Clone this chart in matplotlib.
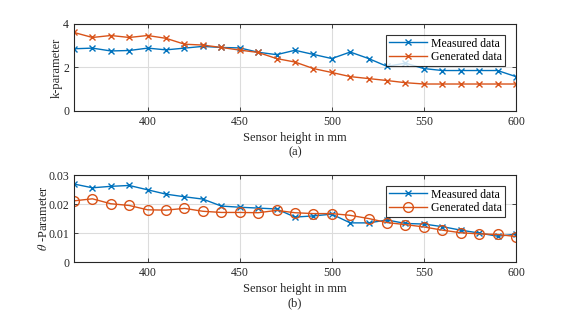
import numpy as np
import matplotlib.pyplot as plt

plt.rcParams['font.family'] = ['Liberation Serif', 'DejaVu Serif']
plt.rcParams['mathtext.fontset'] = 'stix'

# sensor heights in mm
height = np.arange(360, 601, 10)

k_meas = [2.86, 2.89, 2.76, 2.78, 2.89, 2.81, 2.89, 2.97, 2.92, 2.90, 2.70, 2.59,
          2.79, 2.60, 2.41, 2.71, 2.41, 2.05, 2.20, 1.95, 1.86, 1.86, 1.86, 1.86, 1.58]
k_gen = [3.61, 3.38, 3.47, 3.38, 3.47, 3.34, 3.07, 3.03, 2.92, 2.80, 2.69, 2.41,
         2.25, 1.95, 1.77, 1.58, 1.49, 1.40, 1.30, 1.24, 1.24, 1.24, 1.24, 1.24, 1.24]

th_meas = [0.0269, 0.0256, 0.0261, 0.0264, 0.0249, 0.0234, 0.0225, 0.0217, 0.0193,
           0.0189, 0.0186, 0.0183, 0.0155, 0.0159, 0.0165, 0.0135, 0.0135, 0.0145,
           0.0133, 0.0131, 0.0122, 0.0110, 0.0100, 0.0089, 0.0096]
th_gen = [0.0211, 0.0218, 0.0201, 0.0195, 0.0180, 0.0179, 0.0185, 0.0175, 0.0171,
          0.0171, 0.0170, 0.0178, 0.0170, 0.0167, 0.0167, 0.0161, 0.0150, 0.0136,
          0.0129, 0.0121, 0.0110, 0.0101, 0.0097, 0.0095, 0.0088]

blue = '#0072BD'
orange = '#D95319'
fs = 8.5

fig = plt.figure(figsize=(5.7, 3.18), dpi=100)
ax1 = fig.add_axes([0.1298, 0.651, 0.7754, 0.2736])
ax2 = fig.add_axes([0.1298, 0.176, 0.7754, 0.2736])


def style(ax):
    ax.set_xlim(360, 600)
    ax.set_xticks([400, 450, 500, 550, 600])
    ax.grid(True, color='#dcdcdc', linewidth=0.8)
    ax.set_axisbelow(True)
    ax.tick_params(direction='in', top=True, right=True, labelsize=fs,
                   length=3, width=0.6, colors='#262626', pad=3.5)
    for s in ax.spines.values():
        s.set_linewidth(0.8)
        s.set_color('#262626')


def add_legend(ax):
    leg = ax.legend(loc='upper right', fontsize=fs, fancybox=False, edgecolor='k',
                    borderaxespad=0.9, handlelength=3.2, handletextpad=0.4,
                    borderpad=0.25, labelspacing=0.15)
    leg.get_frame().set_linewidth(0.8)


ax1.plot(height, k_meas, color=blue, marker='x', ms=5, mew=1, lw=1, label='Measured data')
ax1.plot(height, k_gen, color=orange, marker='x', ms=5, mew=1, lw=1, label='Generated data')
style(ax1)
ax1.set_ylim(0, 4)
ax1.set_yticks([0, 2, 4])
ax1.set_ylabel('k-parameter', fontsize=9, color='#262626', va='center')
ax1.yaxis.set_label_coords(-0.040, 0.5)
ax1.set_xlabel('Sensor height in mm\n(a)', fontsize=9, labelpad=3, linespacing=1.3,
               color='#262626')
add_legend(ax1)

ax2.plot(height, th_meas, color=blue, marker='x', ms=5, mew=1, lw=1, label='Measured data')
ax2.plot(height, th_gen, color=orange, marker='o', ms=7, mfc='none', mew=1, lw=1,
         label='Generated data')
style(ax2)
ax2.set_ylim(0, 0.03)
ax2.set_yticks([0, 0.01, 0.02, 0.03])
ax2.set_yticklabels(['0', '0.01', '0.02', '0.03'])
ax2.set_ylabel(r'$\theta$ -Parameter', fontsize=9, color='#262626', va='center')
ax2.yaxis.set_label_coords(-0.069, 0.5)
ax2.set_xlabel('Sensor height in mm\n(b)', fontsize=9, labelpad=3, linespacing=1.3,
               color='#262626')
add_legend(ax2)

fig.savefig('out.png', dpi=100)
